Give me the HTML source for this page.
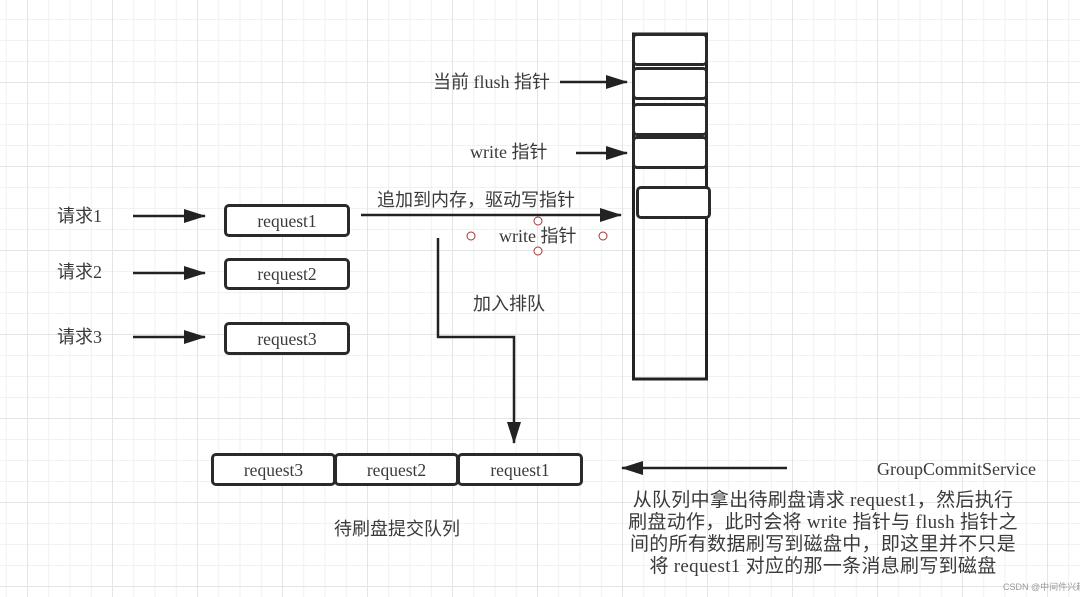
<!DOCTYPE html>
<html><head><meta charset="utf-8"><style>
body{margin:0}
.c{position:relative;width:1080px;height:597px;overflow:hidden;background:#fff;
background-image:linear-gradient(#e4e4e4 1px,transparent 1px),linear-gradient(90deg,#e4e4e4 1px,transparent 1px),linear-gradient(#f1f1f1 1px,transparent 1px),linear-gradient(90deg,#f1f1f1 1px,transparent 1px);
background-size:84px 84px,85px 85px,21px 21px,21.25px 21.25px;background-position:0 82px,27px 0,0 82px,27px 0;}
.t{position:absolute;font-family:"Liberation Serif","Noto Sans CJK SC",serif;color:#3a3a3a;font-size:18px;white-space:nowrap;line-height:1}
.b{position:absolute;border:3px solid #2a2a2a;border-radius:5px;box-sizing:border-box;background:#fff;font-family:"Liberation Serif",serif;font-size:17.5px;color:#3a3a3a;text-align:center}
</style></head><body><div class="c">
<svg width="1080" height="597" style="position:absolute;left:0;top:0">
<defs><marker id="m" markerWidth="22" markerHeight="14" refX="21" refY="7" orient="auto" markerUnits="userSpaceOnUse"><path d="M0,0L22,7L0,14z" fill="#222"/></marker></defs>
<g stroke="#222" stroke-width="2.5" fill="none">
<line x1="133" y1="216" x2="205" y2="216" marker-end="url(#m)"/>
<line x1="133" y1="273" x2="205" y2="273" marker-end="url(#m)"/>
<line x1="133" y1="337" x2="205" y2="337" marker-end="url(#m)"/>
<line x1="361" y1="215" x2="621" y2="215" marker-end="url(#m)"/>
<line x1="560" y1="82" x2="627" y2="82" marker-end="url(#m)"/>
<line x1="576" y1="153" x2="627" y2="153" marker-end="url(#m)"/>
<polyline points="438,238 438,337 514,337 514,443" marker-end="url(#m)"/>
<line x1="787" y1="468" x2="622" y2="468" marker-end="url(#m)"/>
<rect x="633.5" y="34" width="73" height="345" stroke-width="3"/>
</g>
<g stroke="#a33" stroke-width="1" fill="#fff">
<circle cx="538" cy="221" r="4"/><circle cx="538" cy="251" r="4"/><circle cx="471" cy="236" r="4"/><circle cx="603" cy="236" r="4"/>
</g>
</svg>
<div class="b" style="left:632px;top:33px;width:76px;height:33px"></div>
<div class="b" style="left:632px;top:67px;width:76px;height:33px"></div>
<div class="b" style="left:632px;top:103px;width:76px;height:33px"></div>
<div class="b" style="left:632px;top:136px;width:76px;height:33px"></div>
<div class="b" style="left:636px;top:186px;width:75px;height:33px"></div>
<div class="b" style="left:224px;top:204px;width:126px;height:33px;line-height:28px">request1</div>
<div class="b" style="left:224px;top:258px;width:126px;height:32px;line-height:27px">request2</div>
<div class="b" style="left:224px;top:322px;width:126px;height:33px;line-height:28px">request3</div>
<div class="b" style="left:211px;top:453px;width:125px;height:33px;line-height:28px">request3</div>
<div class="b" style="left:334px;top:453px;width:125px;height:33px;line-height:28px">request2</div>
<div class="b" style="left:457px;top:453px;width:126px;height:33px;line-height:28px">request1</div>
<div class="t" style="left:57px;top:207px">请求1</div>
<div class="t" style="left:57px;top:263px">请求2</div>
<div class="t" style="left:57px;top:328px">请求3</div>
<div class="t" style="left:433px;top:73px">当前 flush 指针</div>
<div class="t" style="left:470px;top:143px">write 指针</div>
<div class="t" style="left:377px;top:191px">追加到内存，驱动写指针</div>
<div class="t" style="left:499px;top:227px">write 指针</div>
<div class="t" style="left:473px;top:295px">加入排队</div>
<div class="t" style="left:334px;top:520px">待刷盘提交队列</div>
<div class="t" style="left:877px;top:460px">GroupCommitService</div>
<div class="t" style="left:610px;top:490px;width:426px;text-align:center;line-height:22px;white-space:normal;font-size:19px;letter-spacing:0.3px">从队列中拿出待刷盘请求 request1，然后执行<br>刷盘动作，此时会将 write 指针与 flush 指针之<br>间的所有数据刷写到磁盘中，即这里并不只是<br>将 request1 对应的那一条消息刷写到磁盘</div>
<div class="t" style="left:1003px;top:583px;font-size:9px;color:#999;font-family:'Liberation Sans','Noto Sans CJK SC',sans-serif">CSDN @中间件兴趣圈</div>
</div></body></html>
